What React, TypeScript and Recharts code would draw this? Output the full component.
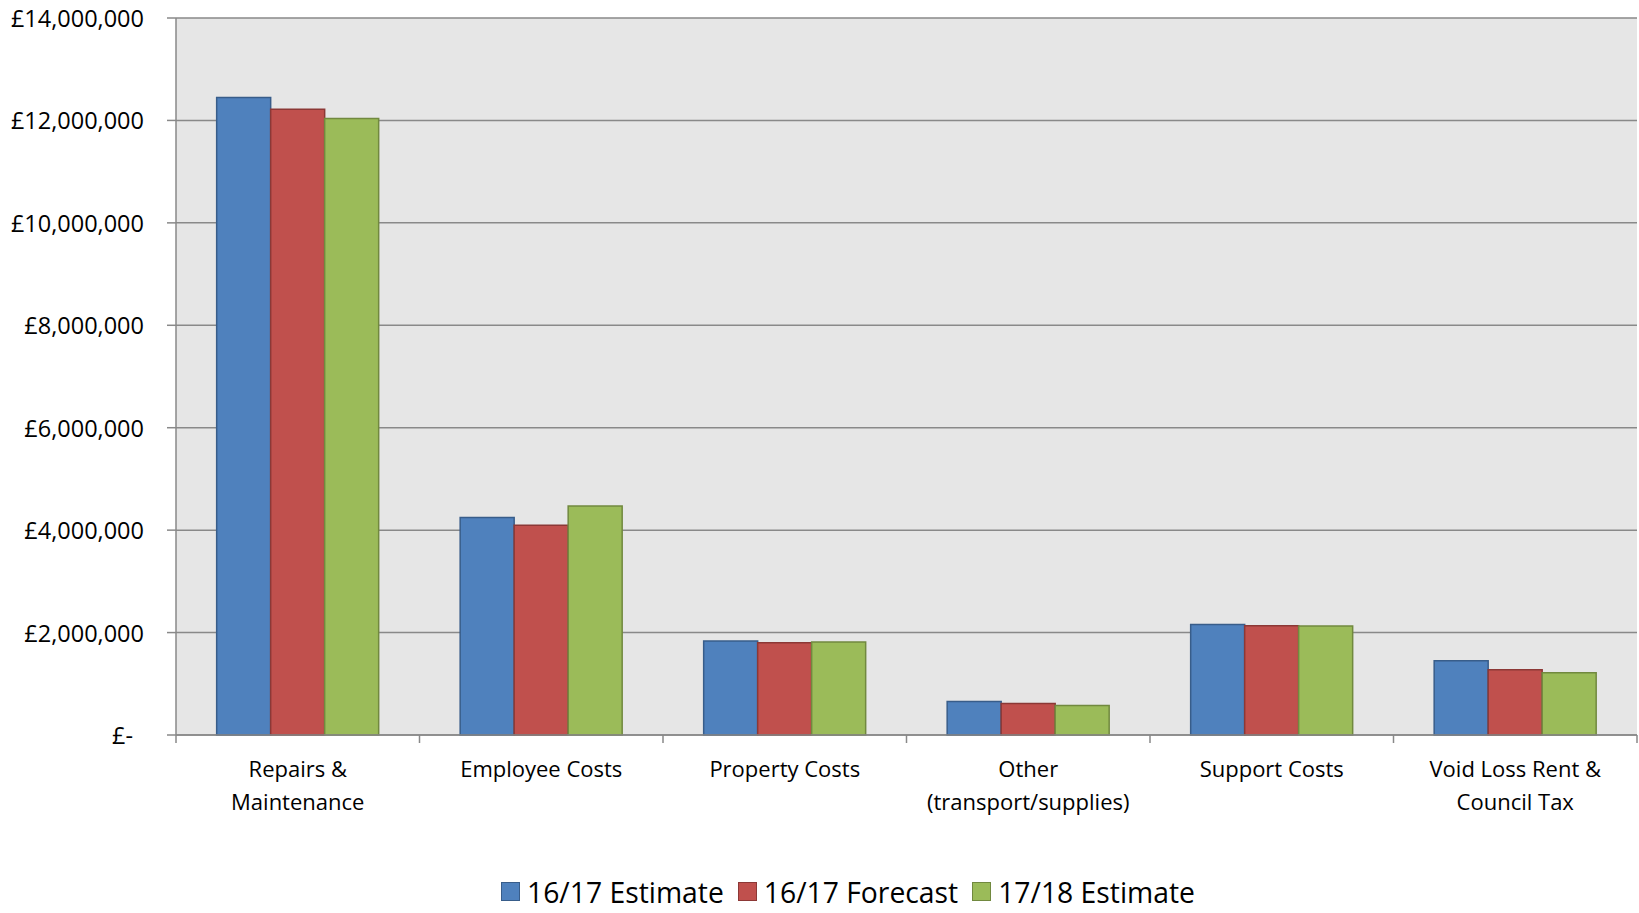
import { BarChart, Bar, XAxis, YAxis, CartesianGrid, Legend } from 'recharts';

const categories = [
  'Repairs &\nMaintenance',
  'Employee Costs',
  'Property Costs',
  'Other\n(transport/supplies)',
  'Support Costs',
  'Void Loss Rent &\nCouncil Tax',
];

const estimate1617 = [12450000, 4245000, 1833000, 655000, 2157000, 1449000];
const forecast1617 = [12220000, 4096000, 1800000, 617000, 2132000, 1274000];
const estimate1718 = [12040000, 4470000, 1814000, 578000, 2130000, 1215000];

const yTicks = [0, 2000000, 4000000, 6000000, 8000000, 10000000, 12000000, 14000000];

const data = categories.map((name, i) => ({
  name,
  est1617: estimate1617[i],
  fc1617: forecast1617[i],
  est1718: estimate1718[i],
}));

const CHART_W = 1639;
const CHART_H = 913;
const MARGIN = { top: 18, right: 2, left: 0, bottom: 0 };
const Y_AXIS_W = 176;
const X_AXIS_H = 118;
const LEGEND_H = 60;
const AXIS_GRAY = '#898989';
const FONT = '"Open Sans", sans-serif';

const PLOT_W = CHART_W - MARGIN.left - MARGIN.right - Y_AXIS_W;
const BAND = PLOT_W / categories.length;
const X_TICK_SIZE = 8;

const formatPounds = (v: number) => '£' + v.toLocaleString('en-GB');

function YTick(props: any) {
  const { x, y, payload } = props;
  const v = payload.value as number;
  return (
    <text
      x={v === 0 ? x - 11 : x}
      y={y}
      textAnchor="end"
      dominantBaseline="central"
      fontFamily={FONT}
      fontSize={23.5}
      fill="#000"
    >
      {v === 0 ? '£-' : formatPounds(v)}
    </text>
  );
}

function XTick(props: any) {
  const { x, y, payload, index } = props;
  const lines = String(payload.value).split('\n');
  const axisY = y - X_TICK_SIZE;
  return (
    <g>
      <line x1={x - BAND / 2} x2={x - BAND / 2} y1={axisY} y2={axisY + X_TICK_SIZE} stroke={AXIS_GRAY} strokeWidth={1.5} />
      {index === categories.length - 1 && (
        <line x1={x + BAND / 2} x2={x + BAND / 2} y1={axisY} y2={axisY + X_TICK_SIZE} stroke={AXIS_GRAY} strokeWidth={1.5} />
      )}
      <text x={x} y={y} textAnchor="middle" fontFamily={FONT} fontSize={22} fill="#000">
        {lines.map((line, i) => (
          <tspan key={i} x={x} dy={i === 0 ? 34 : 33}>
            {line}
          </tspan>
        ))}
      </text>
    </g>
  );
}

function LegendContent(props: any) {
  const items = props.payload || [];
  return (
    <div
      style={{
        height: LEGEND_H,
        boxSizing: 'border-box',
        paddingTop: 17,
        paddingLeft: 501,
        display: 'flex',
        alignItems: 'center',
        fontFamily: FONT,
        fontSize: 28.3,
        lineHeight: '28px',
        color: '#000',
      }}
    >
      {items.map((item: any) => (
        <div key={item.value} style={{ display: 'flex', alignItems: 'center', marginRight: 14 }}>
          <span
            style={{
              display: 'inline-block',
              width: 17,
              height: 17,
              background: item.color,
              border: `1.5px solid ${item.payload.stroke}`,
              marginRight: 7,
            }}
          />
          <span>{item.value}</span>
        </div>
      ))}
    </div>
  );
}

export default function App() {
  return (
    <div style={{ position: 'absolute', left: 0, top: 0, width: CHART_W, height: CHART_H, background: '#fff' }}>
      <BarChart
        width={CHART_W}
        height={CHART_H}
        data={data}
        margin={MARGIN}
        barCategoryGap="16.7%"
        barGap={0}
      >
        <CartesianGrid vertical={false} fill="#E6E6E6" stroke={AXIS_GRAY} strokeWidth={1.5} />
        <XAxis
          dataKey="name"
          height={X_AXIS_H}
          interval={0}
          tickSize={X_TICK_SIZE}
          tickMargin={0}
          tickLine={false}
          axisLine={{ stroke: AXIS_GRAY, strokeWidth: 1.5 }}
          tick={<XTick />}
        />
        <YAxis
          width={Y_AXIS_W}
          domain={[0, 14000000]}
          ticks={yTicks}
          interval={0}
          tickSize={9}
          tickMargin={23}
          tickLine={{ stroke: AXIS_GRAY, strokeWidth: 1.5 }}
          axisLine={{ stroke: AXIS_GRAY, strokeWidth: 1.5 }}
          tick={<YTick />}
        />
        <Legend
          verticalAlign="bottom"
          height={LEGEND_H}
          content={<LegendContent />}
          wrapperStyle={{ height: LEGEND_H }}
        />
        <Bar dataKey="est1617" name="16/17 Estimate" fill="#4F81BD" stroke="#385D8A" strokeWidth={1.5} isAnimationActive={false} />
        <Bar dataKey="fc1617" name="16/17 Forecast" fill="#C0504D" stroke="#8C3836" strokeWidth={1.5} isAnimationActive={false} />
        <Bar dataKey="est1718" name="17/18 Estimate" fill="#9BBB59" stroke="#71893F" strokeWidth={1.5} isAnimationActive={false} />
      </BarChart>
    </div>
  );
}
